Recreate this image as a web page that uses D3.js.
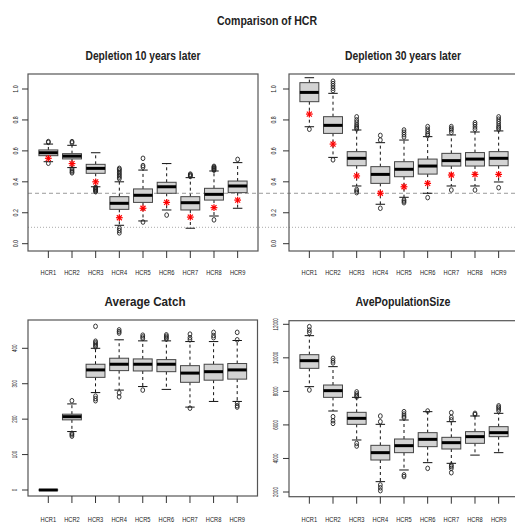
<!DOCTYPE html>
<html><head><meta charset="utf-8">
<script src="https://cdn.jsdelivr.net/npm/d3@7"></script>
<style>body{margin:0;background:#fff}svg{display:block}text{font-family:"Liberation Sans",Arial,sans-serif;fill:#222}</style>
</head><body><svg id="c" width="515" height="522"></svg>
<script>
const categories = ["HCR1","HCR2","HCR3","HCR4","HCR5","HCR6","HCR7","HCR8","HCR9"];

// stats per category: [lower whisker, Q1, median, Q3, upper whisker]
const dep10Stats = [[0.530,0.569,0.588,0.606,0.644],[0.492,0.548,0.566,0.582,0.636],[0.368,0.455,0.487,0.513,0.588],[0.119,0.222,0.261,0.304,0.400],[0.147,0.267,0.313,0.354,0.476],[0.218,0.326,0.368,0.397,0.518],[0.100,0.218,0.265,0.304,0.427],[0.179,0.282,0.319,0.358,0.470],[0.229,0.330,0.373,0.405,0.524]];
const dep10Out = [[0.66,0.655,0.52],[0.66,0.652,0.485,0.475,0.465,0.458],[0.365,0.36,0.355,0.35,0.345,0.34,0.336],[0.487,0.48,0.47,0.46,0.45,0.44,0.43,0.42,0.10,0.085,0.07],[0.552,0.505,0.495,0.14],[0.185],[0.45,0.445,0.44,0.435],[0.50,0.495,0.49,0.485,0.48,0.475,0.154],[0.545]];
const dep10Star = [0.552,0.518,0.40,0.168,0.229,0.267,0.172,0.233,0.282];

const dep30Stats = [[0.756,0.918,0.978,1.041,1.073],[0.558,0.713,0.765,0.821,0.972],[0.373,0.504,0.552,0.595,0.735],[0.255,0.390,0.448,0.498,0.653],[0.300,0.433,0.481,0.530,0.670],[0.326,0.450,0.502,0.547,0.692],[0.373,0.502,0.537,0.584,0.703],[0.373,0.502,0.547,0.589,0.722],[0.399,0.504,0.552,0.595,0.729]];
const dep30Out = [[0.74],[1.05,1.035,1.02,1.005,0.99,0.542],[0.82,0.80,0.785,0.77,0.76,0.75,0.742,0.35,0.34,0.33],[0.70,0.67,0.229],[0.735,0.72,0.705,0.69,0.283,0.275,0.265],[0.757,0.74,0.725,0.71,0.70,0.298],[0.757,0.745,0.735,0.72,0.347],[0.782,0.77,0.755,0.74,0.347],[0.82,0.805,0.79,0.775,0.76,0.75,0.74,0.362]];
const dep30Star = [0.838,0.644,0.438,0.326,0.368,0.39,0.444,0.448,0.448];

const catchStats = [[0,0,0,0,0],[165,198,207,214,243],[275,318,339,355,400],[282,337,355,372,424],[292,336,355,370,421],[284,334,355,368,421],[234,304,330,351,419],[250,310,334,355,419],[250,313,339,357,422]];
const catchOut = [[],[252,160,156,152],[462,420,416,412,408,404,265,258,252],[452,447,443,274,263],[437,432,428,282],[438,434,430,426],[440,430,424,231],[445,436,430],[445,424,245,238,234]];

const popStats = [[8282,9374,9831,10188,11322],[6830,7644,8043,8380,9475],[5101,6035,6393,6751,7644],[2617,3908,4346,4783,6035],[3312,4346,4763,5160,6293],[3750,4704,5140,5538,6790],[3710,4564,4942,5260,6194],[4200,4902,5300,5598,6532],[4346,5300,5538,5896,6691]];
const popOut = [[11860,11650,11500,8085],[9970,9820,9700,6490,6250,6090],[7970,7850,7750,7670,4900,4740],[6530,6190,2420,2250,2080],[6790,6650,6530,6430,3020,2920],[6830,3410],[6730,6450,6300,3610,3520,3410,3150],[6690,6620],[7140,7050,6950,6840]];

const depTicks = [0,0.2,0.4,0.6,0.8,1.0];
const depTickLabels = ["0.0","0.2","0.4","0.6","0.8","1.0"];
const catchTicks = [0,100,200,300,400];
const popTicks = [2000,4000,6000,8000,10000,12000];
const refLines = [0.326, 0.106];

const mainTitle = "Comparison of HCR";
const panelTitles = ["Depletion 10 years later","Depletion 30 years later","Average Catch","AvePopulationSize"];

const svg = d3.select("#c");

function tl(s){ let n=0; for(const ch of s){ n += (ch==="."?2.4:2.45);} return n; }

svg.append("text").attr("x",267).attr("y",25).attr("text-anchor","middle")
  .attr("font-size",13).attr("font-weight","bold").attr("textLength",100).attr("lengthAdjust","spacingAndGlyphs").text(mainTitle);

const panels = [
  {L:28,R:258,T:74,B:251,dom:[0,1],rng:[243.7,89],stats:dep10Stats,out:dep10Out,star:dep10Star,ticks:depTicks,labels:depTickLabels,labX:17.5,title:panelTitles[0],titleX:143,titleY:59.5,titleW:115,xlabY:274.5,ref:true},
  {L:289,R:519,T:74,B:251,dom:[0,1],rng:[243.7,89],stats:dep30Stats,out:dep30Out,star:dep30Star,ticks:depTicks,labels:depTickLabels,labX:275.5,title:panelTitles[1],titleX:403,titleY:59.5,titleW:116,xlabY:274.5,ref:false},
  {L:28,R:257.5,T:320,B:496,dom:[0,400],rng:[490,348.3],stats:catchStats,out:catchOut,star:null,ticks:catchTicks,labels:catchTicks.map(String),labX:16.5,title:panelTitles[2],titleX:145,titleY:305.5,titleW:81,xlabY:521.5,ref:false},
  {L:289,R:519,T:320.7,B:496.7,dom:[2000,12000],rng:[492,324.3],stats:popStats,out:popOut,star:null,ticks:popTicks,labels:popTicks.map(String),labX:278,title:panelTitles[3],titleX:403,titleY:305.5,titleW:95,xlabY:521.5,ref:false}
];

// reference lines across top row
panels[0].y = d3.scaleLinear().domain(panels[0].dom).range(panels[0].rng);
svg.append("line").attr("x1",28).attr("x2",515).attr("y1",panels[0].y(refLines[0])).attr("y2",panels[0].y(refLines[0]))
  .attr("stroke","#9a9a9a").attr("stroke-width",1).attr("stroke-dasharray","4,3");
svg.append("line").attr("x1",28).attr("x2",515).attr("y1",panels[0].y(refLines[1])).attr("y2",panels[0].y(refLines[1]))
  .attr("stroke","#aaa").attr("stroke-width",1).attr("stroke-dasharray","1,2");

panels.forEach(p=>{
  const g = svg.append("g");
  const x = d3.scaleLinear().domain([0.14,9.86]).range([p.L,p.R]);
  const y = d3.scaleLinear().domain(p.dom).range(p.rng);
  const bw = x(0.8)-x(0);
  // title
  svg.append("text").attr("x",p.titleX).attr("y",p.titleY).attr("text-anchor","middle").attr("font-size",13)
    .attr("font-weight","bold").attr("textLength",p.titleW).attr("lengthAdjust","spacingAndGlyphs").text(p.title);
  // frame
  g.append("rect").attr("x",p.L).attr("y",p.T).attr("width",p.R-p.L).attr("height",p.B-p.T)
    .attr("fill","none").attr("stroke","#555").attr("stroke-width",1.2);
  // y ticks
  p.ticks.forEach((t,i)=>{
    g.append("line").attr("x1",p.L-6).attr("x2",p.L).attr("y1",y(t)).attr("y2",y(t)).attr("stroke","#333");
    const lab = p.labels[i];
    g.append("text").attr("transform",`translate(${p.labX},${y(t)}) rotate(-90)`).attr("text-anchor","middle")
      .attr("font-size",7.5).attr("textLength",tl(lab)).attr("lengthAdjust","spacingAndGlyphs").text(lab);
  });
  // x ticks
  categories.forEach((c,i)=>{
    const cx = x(i+1);
    g.append("line").attr("x1",cx).attr("x2",cx).attr("y1",p.B).attr("y2",p.B+7).attr("stroke","#333");
    g.append("text").attr("x",cx).attr("y",p.xlabY).attr("text-anchor","middle").attr("font-size",8)
      .attr("textLength",15.5).attr("lengthAdjust","spacingAndGlyphs").text(c);
  });
  // boxes
  p.stats.forEach((s,i)=>{
    const cx = x(i+1);
    const [lo,q1,md,q3,hi] = s;
    g.append("line").attr("x1",cx).attr("x2",cx).attr("y1",y(q3)).attr("y2",y(hi)).attr("stroke","#111").attr("stroke-dasharray","3,3");
    g.append("line").attr("x1",cx).attr("x2",cx).attr("y1",y(q1)).attr("y2",y(lo)).attr("stroke","#111").attr("stroke-dasharray","3,3");
    [lo,hi].forEach(v=>g.append("line").attr("x1",cx-bw/4).attr("x2",cx+bw/4).attr("y1",y(v)).attr("y2",y(v)).attr("stroke","#111"));
    g.append("rect").attr("x",cx-bw/2).attr("y",y(q3)).attr("width",bw).attr("height",Math.max(0.01,y(q1)-y(q3)))
      .attr("fill","#d3d3d3").attr("stroke","#444").attr("stroke-width",1);
    g.append("line").attr("x1",cx-bw/2).attr("x2",cx+bw/2).attr("y1",y(md)).attr("y2",y(md)).attr("stroke","#000").attr("stroke-width",3);
    p.out[i].forEach(v=>{
      g.append("ellipse").attr("cx",cx).attr("cy",y(v)).attr("rx",1.9).attr("ry",2.3).attr("fill","none").attr("stroke","#222").attr("stroke-width",0.9);
    });
    if(p.star){
      const sy = y(p.star[i]), r=3.4, d=2.5;
      const sg = g.append("g").attr("stroke","#f00").attr("stroke-width",1.2);
      sg.append("line").attr("x1",cx-r).attr("x2",cx+r).attr("y1",sy).attr("y2",sy);
      sg.append("line").attr("x1",cx).attr("x2",cx).attr("y1",sy-r).attr("y2",sy+r);
      sg.append("line").attr("x1",cx-d).attr("x2",cx+d).attr("y1",sy-d).attr("y2",sy+d);
      sg.append("line").attr("x1",cx-d).attr("x2",cx+d).attr("y1",sy+d).attr("y2",sy-d);
    }
  });
});
</script></body></html>
